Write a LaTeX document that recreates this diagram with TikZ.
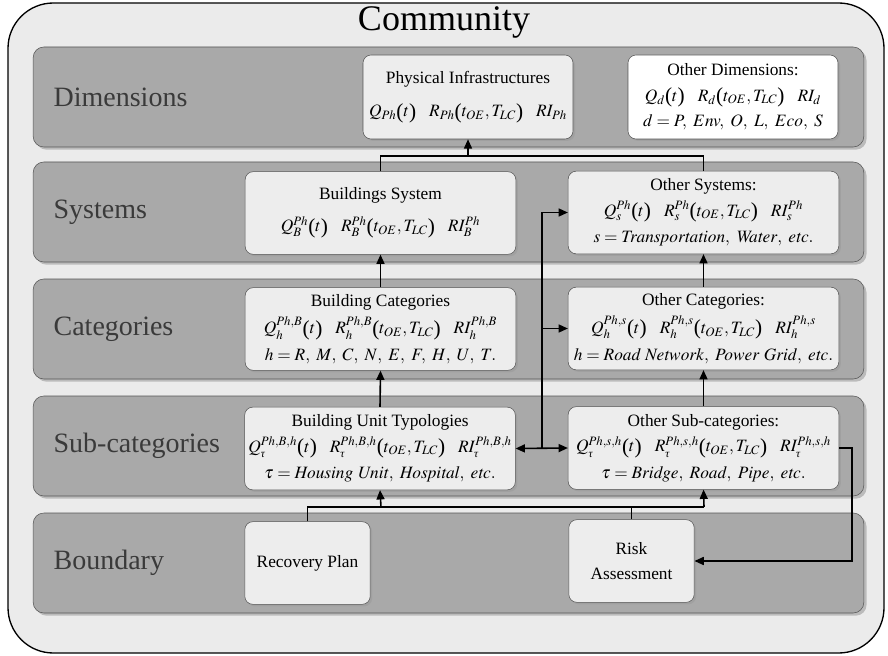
\documentclass[tikz,border=0pt]{standalone}
\usepackage{amsmath}
\usepackage{mathptmx}
\usepackage{fontspec}
\setmainfont{Liberation Serif}
\usepackage{tikz}
\usetikzlibrary{
    arrows.meta, positioning, calc, 
    shadows, backgrounds
}
\definecolor{frameGray}{HTML}{EBEBEB}
\definecolor{bandGray}{HTML}{A9A9A9}
\definecolor{cellGray}{HTML}{EDEDED}
\definecolor{edgeGray}{HTML}{555555}
\definecolor{labelGray}{HTML}{3A3A3A}
\tikzset{
    band/.style={draw=edgeGray, fill=bandGray, rounded corners=8pt,
        minimum width=623pt, minimum height=75pt, inner sep=0pt,
        drop shadow={shadow xshift=2pt, shadow yshift=-2pt, fill=black!45}},
    bandlabel/.style={anchor=west, text=labelGray, font=\fontsize{21}{24}\selectfont},
    cell/.style={draw=edgeGray, fill=cellGray, rounded corners=6pt, align=center,
        minimum width=203pt, minimum height=62pt, inner sep=1pt,
        font=\fontsize{13}{15}\selectfont,
        drop shadow={shadow xshift=1.5pt, shadow yshift=-1.5pt, fill=black!40}},
    smallcell/.style={cell, minimum width=94pt},
    topcell/.style={cell, minimum width=157.5pt, minimum height=63pt},
    link/.style={line width=1.2pt, black},
    flow/.style={link, -{Triangle[length=7pt, width=6pt]}},
    twoway/.style={link, {Triangle[length=7pt, width=6pt]}-{Triangle[length=7pt, width=6pt]}}
}
% tall parentheses taken from the text font
\newcommand{\lpar}{\mbox{\fontsize{16}{16}\selectfont\raisebox{-1.2pt}{(}}}
\newcommand{\rpar}{\mbox{\fontsize{16}{16}\selectfont\raisebox{-1.2pt}{)}}}
\newcommand{\lowtau}{\mbox{\fontsize{8.5}{9}\selectfont\itshape\raisebox{-1pt}{τ}}}
\newcommand{\QRI}[1]{Q#1\lpar t\rpar\hspace{0.75em}R#1\lpar t_{OE},T_{LC}\rpar\hspace{0.75em}RI#1}

\begin{document}
\begin{tikzpicture}[x=0.75pt, y=-0.75pt]
    \useasboundingbox (0,0) rectangle (888,656);

    % --- COMMUNITY FRAME ---
    \draw[fill=frameGray, draw=black, line width=1pt, rounded corners=34pt] (8,3) rectangle (884,653);
    \node[font=\fontsize{27}{30}\selectfont] (community) at (444,22) {Community};

    % --- BANDS ---
    \node[band] (dimB) at (448.5,97) {};
    \node[band] (sysB) at (448.5,212) {};
    \node[band] (catB) at (448.5,329) {};
    \node[band] (subB) at (448.5,446) {};
    \node[band] (bndB) at (448.5,563) {};
    \foreach \b/\lbl in {dimB/Dimensions, sysB/Systems, catB/Categories, subB/Sub-categories, bndB/Boundary}
        \node[bandlabel] (\b-lbl) at ([xshift=12pt]\b.west) {\lbl};

    % --- DIMENSIONS ---
    \node[topcell] (phys) at (468,97) {Physical Infrastructures\\[10pt] $\QRI{_{Ph}}$};
    \node[topcell, fill=white] (odim) at (733,97) {Other Dimensions:\\[4pt] $\QRI{_{d}}$\\[4pt]
        $d = P,\ Env,\ O,\ L,\ Eco,\ S$};

    % --- SYSTEMS ---
    \node[cell] (bsys) at (380.5,213) {Buildings System\\[9pt] $\QRI{_{B}^{Ph}}$};
    \node[cell] (osys) at (703.5,212.5) {Other Systems:\\[4pt] $\QRI{_{s}^{Ph}}$\\[5pt]
        $s = \mathit{Transportation},\ \mathit{Water},\ \mathit{etc.}$};

    % --- CATEGORIES ---
    \node[cell] (bcat) at (380.5,329) {Building Categories\\[4pt] $\QRI{_{h}^{Ph,B}}$\\[5pt]
        $h = R,\ M,\ C,\ N,\ E,\ F,\ H,\ U,\ T.$};
    \node[cell] (ocat) at (703.5,328.5) {Other Categories:\\[4pt] $\QRI{_{h}^{Ph,s}}$\\[5pt]
        $h = \mathit{Road\ Network},\ \mathit{Power\ Grid},\ \mathit{etc.}$};

    % --- SUB-CATEGORIES ---
    \node[cell] (but) at (380,448.5) {Building Unit Typologies\\[4pt] $\QRI{_{\lowtau}^{Ph,B,h}}$\\[5pt]
        $\tau = \mathit{Housing\ Unit},\ \mathit{Hospital},\ \mathit{etc.}$};
    \node[cell] (osub) at (703.5,448) {Other Sub-categories:\\[4pt] $\QRI{_{\lowtau}^{Ph,s,h}}$\\[5pt]
        $\tau = \mathit{Bridge},\ \mathit{Road},\ \mathit{Pipe},\ \mathit{etc.}$};

    % --- BOUNDARY ---
    \node[smallcell] (rplan) at (307.5,563) {Recovery Plan};
    \node[smallcell] (risk) at (631.5,561) {Risk\\[4pt] Assessment};

    % --- CONNECTORS ---
    \coordinate (jtop) at (468,156);
    \draw[link] (bsys.north) |- (jtop) -| (osys.north);
    \draw[flow] (jtop) -- (phys.south);
    \draw[flow] (bcat.north) -- (bsys.south);
    \draw[flow] (ocat.north) -- (osys.south);
    \draw[flow] (but.north) -- (bcat.south);
    \draw[flow] (osub.north) -- (ocat.south);

    % bus between the two columns
    \coordinate (busB) at (542,448);
    \draw[twoway] (but.east) -- (osub.west);
    \draw[flow] (busB) |- (osys.west);
    \draw[flow] (busB |- ocat.west) -- (ocat.west);

    % boundary feeds
    \coordinate (jbl) at (381,507);
    \coordinate (jbr) at (704,507);
    \draw[link] (rplan.north) |- (jbr);
    \draw[link] (risk.north) -- (risk.north |- jbr);
    \draw[flow] (jbl) -- (but.south);
    \draw[flow] (jbr) -- (osub.south);
    \draw[flow] (osub.east) -- ++(13,0) |- (risk.east);
\end{tikzpicture}
\end{document}
